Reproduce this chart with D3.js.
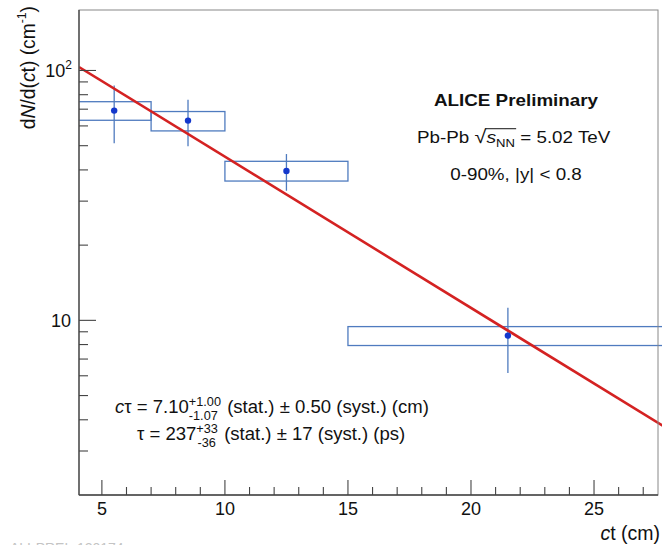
<!DOCTYPE html>
<html>
<head>
<meta charset="utf-8">
<script src="https://cdn.jsdelivr.net/npm/d3@7"></script>
<style>
  html, body { margin: 0; padding: 0; background: #fff; }
  svg { display: block; font-family: "Liberation Sans", Arial, Helvetica, sans-serif; }
</style>
</head>
<body>
<svg id="chart" width="662" height="545"></svg>
<script>
// ---- data ----
const binLow    = [4, 7, 10, 15];
const binHigh   = [7, 10, 15, 28];
const ctCenter  = [5.5, 8.5, 12.5, 21.5];
const yieldVal  = [69.1, 63.0, 39.6, 8.69];
const statHigh  = [87.1, 76.4, 46.3, 11.24];
const statLow   = [51.1, 49.7, 33.0, 6.15];
const systHigh  = [75.0, 68.5, 43.3, 9.44];
const systLow   = [63.2, 57.3, 36.1, 7.93];
const fitX      = [4.07, 28];
const fitY      = [103.2, 3.68];
const xMajorTicks = [5, 10, 15, 20, 25];
const xMinorTicks = [5,6,7,8,9,10,11,12,13,14,15,16,17,18,19,20,21,22,23,24,25,26,27];
const yMajorTicks = [10, 100];
const yMinorTicks = [3,4,5,6,7,8,9,20,30,40,50,60,70,80,90];

// ---- layout ----
const svg = d3.select("#chart");
const L = 79, R = 658, T = 10, B = 495;
const x = d3.scaleLinear().domain([4.07, 27.6]).range([L, R]);
const y = d3.scaleLog().domain([2.0, 174.6]).range([B, T]);

const boxColor = "#4f7bbf";
const dotColor = "#1438cc";
const fitColor = "#d42222";
const axisColor = "#444";

svg.append("defs").append("clipPath").attr("id", "clip")
  .append("rect").attr("x", L).attr("y", T).attr("width", 662 - L).attr("height", B - T);

const plot = svg.append("g").attr("clip-path", "url(#clip)");

// systematic boxes
plot.selectAll("rect.syst").data(d3.range(binLow.length)).enter().append("rect")
  .attr("class", "syst")
  .attr("x", i => x(binLow[i]))
  .attr("width", i => x(binHigh[i]) - x(binLow[i]))
  .attr("y", i => y(systHigh[i]))
  .attr("height", i => y(systLow[i]) - y(systHigh[i]))
  .attr("fill", "none").attr("stroke", boxColor).attr("stroke-width", 1.3);

// stat error bars
plot.selectAll("line.stat").data(d3.range(ctCenter.length)).enter().append("line")
  .attr("x1", i => x(ctCenter[i])).attr("x2", i => x(ctCenter[i]))
  .attr("y1", i => y(statHigh[i])).attr("y2", i => y(statLow[i]))
  .attr("stroke", boxColor).attr("stroke-width", 1.3);

// fit line
plot.append("path")
  .datum(d3.range(fitX.length))
  .attr("d", d3.line().x(i => x(fitX[i])).y(i => y(fitY[i])))
  .attr("fill", "none").attr("stroke", fitColor).attr("stroke-width", 2.6);

// points
plot.selectAll("circle").data(d3.range(ctCenter.length)).enter().append("circle")
  .attr("cx", i => x(ctCenter[i])).attr("cy", i => y(yieldVal[i]))
  .attr("r", 3.2).attr("fill", dotColor);

// frame
svg.append("rect").attr("x", L).attr("y", T).attr("width", R - L).attr("height", B - T)
  .attr("fill", "none").attr("stroke", "#888").attr("stroke-width", 1);
svg.append("line").attr("x1", L).attr("x2", L).attr("y1", T).attr("y2", B)
  .attr("stroke", axisColor).attr("stroke-width", 1.3);
svg.append("line").attr("x1", L).attr("x2", R).attr("y1", B).attr("y2", B)
  .attr("stroke", axisColor).attr("stroke-width", 1.3);

// x axis (ticks inward)
const gx = svg.append("g");
gx.selectAll("line.minor").data(xMinorTicks).enter().append("line")
  .attr("x1", d => x(d)).attr("x2", d => x(d))
  .attr("y1", B).attr("y2", d => xMajorTicks.includes(d) ? B - 15 : B - 8)
  .attr("stroke", axisColor).attr("stroke-width", 1.1);
gx.selectAll("text").data(xMajorTicks).enter().append("text")
  .attr("x", d => x(d)).attr("y", 515).attr("text-anchor", "middle")
  .attr("font-size", 18).attr("fill", "#111").text(d => d);

// y axis (ticks inward)
const gy = svg.append("g");
gy.selectAll("line.minor").data(yMinorTicks).enter().append("line")
  .attr("x1", L).attr("x2", L + 9)
  .attr("y1", d => y(d)).attr("y2", d => y(d))
  .attr("stroke", axisColor).attr("stroke-width", 1.1);
gy.selectAll("line.major").data(yMajorTicks).enter().append("line")
  .attr("x1", L).attr("x2", L + 17)
  .attr("y1", d => y(d)).attr("y2", d => y(d))
  .attr("stroke", axisColor).attr("stroke-width", 1.1);
gy.append("text").attr("x", 71).attr("y", y(10) + 7).attr("text-anchor", "end")
  .attr("font-size", 18).attr("fill", "#111").text("10");
const t100 = gy.append("text").attr("x", 72).attr("y", y(100) + 7).attr("text-anchor", "end")
  .attr("font-size", 18).attr("fill", "#111");
t100.append("tspan").text("10");
t100.append("tspan").attr("font-size", 12).attr("dy", -8).text("2");

// axis titles
const xt = svg.append("text").attr("x", 660).attr("y", 540).attr("text-anchor", "end")
  .attr("font-size", 19.5).attr("fill", "#111");
xt.append("tspan").attr("font-style", "italic").text("c");
xt.append("tspan").text("t (cm)");

const yt = svg.append("text").attr("transform", "translate(35,6) rotate(-90) scale(0.94,1)")
  .attr("text-anchor", "end").attr("font-size", 20.5).attr("fill", "#111");
yt.append("tspan").text("d");
yt.append("tspan").attr("font-style", "italic").text("N");
yt.append("tspan").text("/d(");
yt.append("tspan").attr("font-style", "italic").text("c");
yt.append("tspan").text("t) (cm");
yt.append("tspan").attr("font-size", 13).attr("dy", -9).text("-1");
yt.append("tspan").attr("dy", 9).text(")");

// ALICE labels (slightly wide lettering, as in the reference)
const sx = 1.14;
const a1 = svg.append("g").attr("transform", `translate(516,106) scale(${sx},1)`);
a1.append("text").attr("text-anchor", "middle")
  .attr("font-size", 16.5).attr("font-weight", "bold").attr("fill", "#111").text("ALICE Preliminary");

const a2 = svg.append("g").attr("transform", `translate(417,143) scale(${sx},1)`);
const pb = a2.append("text").attr("font-size", 16.5).attr("fill", "#111");
pb.append("tspan").text("Pb-Pb ");
pb.append("tspan").attr("font-size", 19).text("√");
pb.append("tspan").attr("font-style", "italic").attr("font-size", 17).text("s");
pb.append("tspan").attr("font-size", 11.5).attr("dy", 4).text("NN");
pb.append("tspan").attr("dy", -4).text(" = 5.02 TeV");
{
  const n = pb.node();
  const full = n.textContent;
  const iRad = full.indexOf("√");
  const iEnd = full.indexOf("NN") + 1;
  const a = n.getExtentOfChar(iRad);
  const b = n.getExtentOfChar(iEnd);
  a2.append("line").attr("x1", a.x + a.width - 1).attr("x2", b.x + b.width + 1)
    .attr("y1", a.y + 2.5).attr("y2", a.y + 2.5).attr("stroke", "#111").attr("stroke-width", 1);
}

const a3 = svg.append("g").attr("transform", `translate(516,180) scale(${sx},1)`);
a3.append("text").attr("text-anchor", "middle")
  .attr("font-size", 16.5).attr("fill", "#111").text("0-90%, |y| < 0.8");

// fit results
const fx = 1.06;
const g1 = svg.append("g").attr("transform", `translate(115,413) scale(${fx},1)`);
const r1 = g1.append("text").attr("font-size", 17.5).attr("fill", "#111");
r1.append("tspan").attr("font-style", "italic").text("c");
r1.append("tspan").text("τ = 7.10");
r1.append("tspan").attr("font-size", 12).attr("dy", -7.5).text("+1.00");
r1.append("tspan").attr("font-size", 12).attr("id", "sub1").text("-1.07");
r1.append("tspan").attr("id", "rest1").text(" (stat.) ± 0.50 (syst.) (cm)");
{
  const n = r1.node();
  const full = n.textContent;
  const iSup = full.indexOf("+1.00");
  const s0 = n.getStartPositionOfChar(iSup);
  const e = n.getExtentOfChar(iSup + 4);
  d3.select("#sub1").attr("x", s0.x).attr("dy", 14.5);
  const e3 = n.getExtentOfChar(iSup + 9);
  d3.select("#rest1").attr("x", Math.max(e.x + e.width, e3.x + e3.width) + 1).attr("dy", -7);
}

const g2 = svg.append("g").attr("transform", `translate(137,440) scale(${fx},1)`);
const r2 = g2.append("text").attr("font-size", 17.5).attr("fill", "#111");
r2.append("tspan").text("τ = 237");
r2.append("tspan").attr("font-size", 12).attr("dy", -7.5).text("+33");
r2.append("tspan").attr("font-size", 12).attr("id", "sub2").text("-36");
r2.append("tspan").attr("id", "rest2").text(" (stat.) ± 17 (syst.) (ps)");
{
  const n = r2.node();
  const full = n.textContent;
  const iSup = full.indexOf("+33");
  const s0 = n.getStartPositionOfChar(iSup);
  const e = n.getExtentOfChar(iSup + 2);
  d3.select("#sub2").attr("x", s0.x + 1).attr("dy", 14.5);
  const e3 = n.getExtentOfChar(iSup + 5);
  d3.select("#rest2").attr("x", Math.max(e.x + e.width, e3.x + e3.width) + 1).attr("dy", -7);
}

// footer id (cut by the bottom edge, as in the reference)
svg.append("text").attr("x", 10).attr("y", 553).attr("font-size", 14)
  .attr("fill", "#c4c4c4").text("ALI-PREL-120174");
</script>
</body>
</html>
